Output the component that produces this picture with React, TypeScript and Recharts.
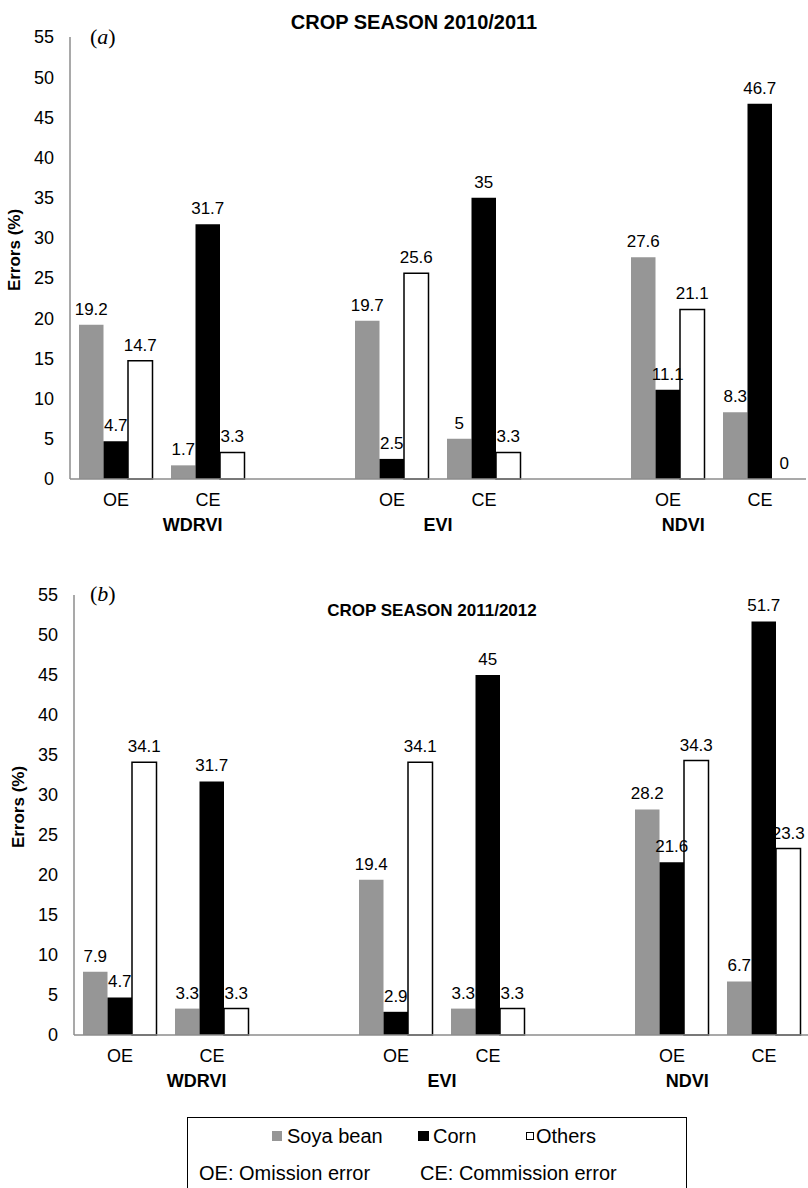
import React from 'react';
import { BarChart, Bar, XAxis, YAxis, LabelList, Label, Cell } from 'recharts';

const categories = ['OE', 'CE', '', 'OE', 'CE', '', 'OE', 'CE'];
const groups = ['WDRVI', 'WDRVI', 'WDRVI', 'EVI', 'EVI', 'EVI', 'NDVI', 'NDVI'];
const yTicks = [0, 5, 10, 15, 20, 25, 30, 35, 40, 45, 50, 55];

const soyaA = [19.2, 1.7, null, 19.7, 5, null, 27.6, 8.3];
const cornA = [4.7, 31.7, null, 2.5, 35, null, 11.1, 46.7];
const othersA = [14.7, 3.3, null, 25.6, 3.3, null, 21.1, 0];

const soyaB = [7.9, 3.3, null, 19.4, 3.3, null, 28.2, 6.7];
const cornB = [4.7, 31.7, null, 2.9, 45, null, 21.6, 51.7];
const othersB = [34.1, 3.3, null, 34.1, 3.3, null, 34.3, 23.3];

const FONT = '"Liberation Sans", Arial, Helvetica, sans-serif';
const GRAY = '#969696';
const AXIS = '#8c8c8c';

function buildRows(soya: (number | null)[], corn: (number | null)[], others: (number | null)[]) {
  return categories.map((c, i) => ({
    id: i,
    cat: c,
    group: groups[i],
    soya: soya[i],
    corn: corn[i],
    others: others[i],
  }));
}

const BarValueLabel = (p: any) => {
  const { x, y, width, value } = p;
  if (value === null || value === undefined || x === undefined) return null;
  return (
    <text
      x={Number(x) + Number(width) / 2}
      y={Number(y) - 10}
      textAnchor="middle"
      fontSize={17}
      fill="#000"
      fontFamily={FONT}
    >
      {String(value)}
    </text>
  );
};

const YLabel = (props: any) => {
  const vb = props.viewBox || {};
  const cx = (vb.x ?? 0) + 4;
  const cy = (vb.y ?? 0) + (vb.height ?? 0) / 2 - 8;
  return (
    <text
      transform={`translate(${cx},${cy}) rotate(-90)`}
      textAnchor="middle"
      dominantBaseline="central"
      fontFamily={FONT}
      fontWeight="bold"
      fontSize={17}
      fill="#000"
    >
      Errors (%)
    </text>
  );
};

const zeroMin = (v: any) => (v === 0 ? 0.01 : 0);

type PanelProps = {
  rows: any[];
  width: number;
  height: number;
  margin: { top: number; right: number; bottom: number; left: number };
};

function Panel({ rows, width, height, margin }: PanelProps) {
  return (
    <BarChart
      width={width}
      height={height}
      data={rows}
      margin={margin}
      barGap={0}
      barSize={24.5}
      style={{ fontFamily: FONT }}
    >
      <XAxis
        xAxisId={0}
        dataKey="cat"
        interval={0}
        height={31}
        axisLine={{ stroke: AXIS, strokeWidth: 1.5 }}
        tickLine={false}
        tickMargin={8}
        tick={{ fontSize: 18, fill: '#000', fontFamily: FONT }}
      />
      <XAxis
        xAxisId={1}
        dataKey="group"
        allowDuplicatedCategory={false}
        interval={0}
        height={30}
        axisLine={false}
        tickLine={false}
        tickMargin={2}
        tick={{ fontSize: 18, fill: '#000', fontWeight: 'bold', fontFamily: FONT }}
      />
      <YAxis
        width={60}
        domain={[0, 55]}
        ticks={yTicks}
        interval={0}
        axisLine={{ stroke: AXIS, strokeWidth: 1.5 }}
        tickLine={false}
        tickMargin={10}
        tick={{ fontSize: 18, fill: '#000', fontFamily: FONT }}
      >
        <Label content={<YLabel />} />
      </YAxis>
      <Bar xAxisId={0} dataKey="soya" name="Soya bean" fill={GRAY} isAnimationActive={false}>
        <LabelList dataKey="soya" content={<BarValueLabel />} />
      </Bar>
      <Bar xAxisId={0} dataKey="corn" name="Corn" fill="#000" isAnimationActive={false}>
        <LabelList dataKey="corn" content={<BarValueLabel />} />
      </Bar>
      <Bar
        xAxisId={0}
        dataKey="others"
        name="Others"
        fill="#fff"
        stroke="#000"
        strokeWidth={1.5}
        minPointSize={zeroMin}
        isAnimationActive={false}
      >
        {rows.map((r) => (
          <Cell key={r.id} stroke={r.others === 0 ? 'none' : '#000'} />
        ))}
        <LabelList dataKey="others" content={<BarValueLabel />} />
      </Bar>
    </BarChart>
  );
}

const rowsA = buildRows(soyaA, cornA, othersA);
const rowsB = buildRows(soyaB, cornB, othersB);

const abs = (l: number, t: number, extra: React.CSSProperties = {}): React.CSSProperties => ({
  position: 'absolute',
  left: l,
  top: t,
  ...extra,
});

export default function App() {
  return (
    <div
      style={{
        position: 'absolute',
        left: 0,
        top: 0,
        width: 808,
        height: 1188,
        overflow: 'hidden',
        background: '#fff',
        fontFamily: FONT,
        color: '#000',
      }}
    >
      <div style={abs(0, 0)}>
        <Panel rows={rowsA} width={808} height={545} margin={{ top: 37, right: 2, bottom: 5, left: 10 }} />
      </div>
      <div style={abs(0, 560)}>
        <Panel rows={rowsB} width={812} height={541} margin={{ top: 35, right: 2, bottom: 5, left: 14 }} />
      </div>

      <div style={abs(0, 11, { width: 828, textAlign: 'center', fontWeight: 'bold', fontSize: 20, lineHeight: '22px' })}>
        CROP SEASON 2010/2011
      </div>
      <div style={abs(0, 600, { width: 864, textAlign: 'center', fontWeight: 'bold', fontSize: 17, lineHeight: '22px' })}>
        CROP SEASON 2011/2012
      </div>
      <div style={abs(90, 24, { fontFamily: '"Liberation Serif", "Times New Roman", serif', fontSize: 22, lineHeight: '26px' })}>
        (<i>a</i>)
      </div>
      <div style={abs(90, 581, { fontFamily: '"Liberation Serif", "Times New Roman", serif', fontSize: 22, lineHeight: '26px' })}>
        (<i>b</i>)
      </div>

      <div style={abs(187, 1117, { width: 500, height: 90, border: '1.5px solid #000', boxSizing: 'border-box' })}>
        <div style={abs(84, 13, { width: 10, height: 10, background: GRAY })} />
        <div style={abs(99, 6, { fontSize: 20, lineHeight: '24px' })}>Soya bean</div>
        <div style={abs(230, 13, { width: 11, height: 10, background: '#000' })} />
        <div style={abs(245, 6, { fontSize: 20, lineHeight: '24px' })}>Corn</div>
        <div style={abs(338, 14, { width: 6, height: 6, border: '1px solid #000', background: '#fff' })} />
        <div style={abs(348, 6, { fontSize: 20, lineHeight: '24px' })}>Others</div>
        <div style={abs(11, 43, { fontSize: 20, lineHeight: '24px' })}>OE: Omission error</div>
        <div style={abs(232, 43, { fontSize: 20, lineHeight: '24px' })}>CE: Commission error</div>
      </div>
    </div>
  );
}
